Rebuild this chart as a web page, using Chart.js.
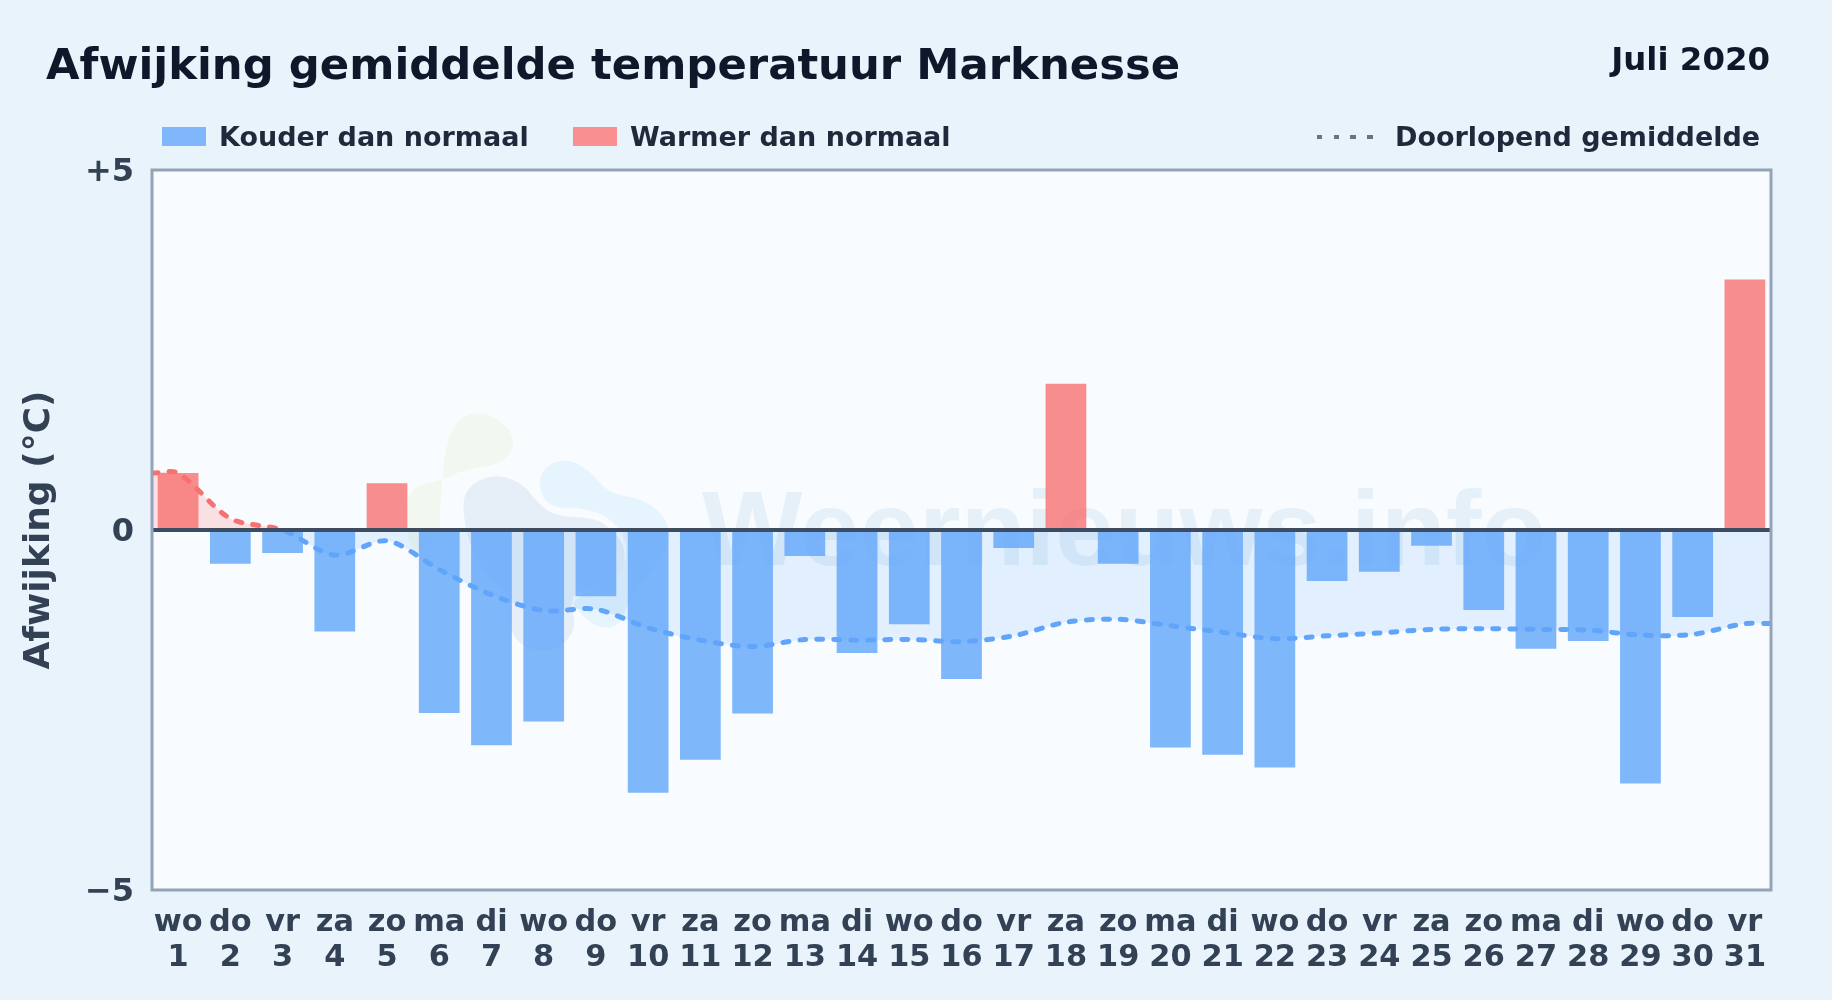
<!DOCTYPE html>
<html>
<head>
<meta charset="utf-8">
<title>Afwijking gemiddelde temperatuur Marknesse</title>
<script src="https://cdn.jsdelivr.net/npm/chart.js@4"></script>
<style>
  html, body { margin: 0; padding: 0; background: #e8f3fc; }
  body { width: 1832px; height: 1000px; position: relative; overflow: hidden; font-family: "DejaVu Sans", sans-serif; font-weight: bold; }
  canvas { position: absolute; left: 0; top: 0; }
  .txt { position: absolute; white-space: nowrap; line-height: 1; }
  #title { left: 46px; top: 43px; font-size: 43.35px; color: #0f172a; }
  #period { right: 62px; top: 43px; font-size: 32.4px; color: #0f172a; }
  .lg { font-size: 27px; color: #1e293b; top: 123px; }
  .swatch { position: absolute; top: 127px; width: 44px; height: 19px; }
  #dots { position: absolute; left: 1317px; top: 135px; width: 56px; height: 4px;
    background: repeating-linear-gradient(90deg, #64748b 0 5.5px, transparent 5.5px 16.7px); }
</style>
</head>
<body>
<canvas id="chart" width="1832" height="1000"></canvas>
<div class="txt" id="title">Afwijking gemiddelde temperatuur Marknesse</div>
<div class="txt" id="period">Juli 2020</div>
<div class="swatch" style="left:162px;background:#80b6fc"></div>
<div class="txt lg" style="left:219px">Kouder dan normaal</div>
<div class="swatch" style="left:573px;background:#f98f8f"></div>
<div class="txt lg" style="left:630px">Warmer dan normaal</div>
<div id="dots"></div>
<div class="txt lg" style="left:1395px">Doorlopend gemiddelde</div>
<script>
const weekdays = ['wo','do','vr','za','zo','ma','di','wo','do','vr','za','zo','ma','di','wo','do','vr','za','zo','ma','di','wo','do','vr','za','zo','ma','di','wo','do','vr']
const days = [1,2,3,4,5,6,7,8,9,10,11,12,13,14,15,16,17,18,19,20,21,22,23,24,25,26,27,28,29,30,31]
const deviation = [0.79,-0.47,-0.32,-1.41,0.65,-2.54,-2.99,-2.66,-0.92,-3.65,-3.19,-2.55,-0.36,-1.71,-1.31,-2.07,-0.25,2.03,-0.47,-3.02,-3.12,-3.30,-0.71,-0.58,-0.22,-1.11,-1.65,-1.54,-3.52,-1.21,3.48]
// running mean, the first and last entry sit on the frame of the plot
const runningDays = [0.5,1,2,3,4,5,6,7,8,9,10,11,12,13,14,15,16,17,18,19,20,21,22,23,24,25,26,27,28,29,30,31,31.5]
const runningMean = [0.79,0.79,0.16,0.0,-0.35,-0.15,-0.55,-0.90,-1.12,-1.10,-1.36,-1.53,-1.62,-1.52,-1.53,-1.52,-1.55,-1.47,-1.28,-1.24,-1.33,-1.42,-1.51,-1.47,-1.43,-1.38,-1.37,-1.38,-1.39,-1.46,-1.45,-1.30,-1.30]
const yTicks = { '5': '+5', '0': '0', '-5': '\u22125' }

const blue = 'rgba(96,165,250,0.8)'
const red = 'rgba(248,113,113,0.8)'

// stroke switches colour exactly where the line crosses zero
function lineColor(ctx) {
  const { chart } = ctx
  if (!chart.chartArea) return '#60a5fa'
  const { top, bottom } = chart.chartArea
  const stop = (chart.scales.y.getPixelForValue(0) - top) / (bottom - top)
  const g = chart.ctx.createLinearGradient(0, top, 0, bottom)
  g.addColorStop(0, '#f87171')
  g.addColorStop(stop, '#f87171')
  g.addColorStop(stop, '#60a5fa')
  g.addColorStop(1, '#60a5fa')
  return g
}

// plot background, watermark and frame
const plotFrame = {
  id: 'plotFrame',
  beforeDraw(chart) {
    const { ctx, chartArea: a } = chart
    ctx.save()
    ctx.fillStyle = '#f8fcff'
    ctx.fillRect(a.left, a.top, a.width, a.height)
    ctx.beginPath()
    ctx.rect(a.left, a.top, a.width, a.height)
    ctx.clip()
    blob(ctx, '#f2f8ef', [[448,425],[483,408],[517,435],[507,463],[463,470],[443,480],[408,487],[405,530],[415,555],[440,540],[440,500]])
    blob(ctx, '#e6f4fd', [[537,473],[563,457],[590,470],[607,493],[647,500],[670,523],[667,550],[647,577],[627,603],[620,627],[597,628],[580,613],[570,600],[600,590],[630,560],[620,525],[590,508],[545,508]])
    blob(ctx, '#e6eff7', [[462,490],[493,473],[523,483],[537,503],[557,517],[593,517],[613,530],[627,550],[620,577],[597,590],[577,590],[570,603],[577,630],[553,653],[520,647],[507,623],[513,597],[480,570],[465,530]])
    ctx.fillStyle = 'rgba(100,160,200,0.12)'
    ctx.font = 'bold 106.5px "Liberation Sans", sans-serif'
    ctx.textBaseline = 'alphabetic'
    ctx.fillText('Weernieuws.info', 702, 565)
    ctx.restore()
  },
  afterDraw(chart) {
    const { ctx, chartArea: a } = chart
    ctx.save()
    ctx.strokeStyle = '#94a3b8'
    ctx.lineWidth = 3
    ctx.strokeRect(a.left, a.top, a.width, a.height)
    ctx.restore()
  }
}

function blob(ctx, color, pts) {
  ctx.fillStyle = color
  ctx.beginPath()
  ctx.moveTo((pts[0][0] + pts[pts.length - 1][0]) / 2, (pts[0][1] + pts[pts.length - 1][1]) / 2)
  pts.forEach((p, i) => {
    const n = pts[(i + 1) % pts.length]
    ctx.quadraticCurveTo(p[0], p[1], (p[0] + n[0]) / 2, (p[1] + n[1]) / 2)
  })
  ctx.fill()
}

const xTickFont = { family: '"DejaVu Sans"', weight: 'bold', size: 30.4, lineHeight: 1.14 }
const yTickFont = { family: '"DejaVu Sans"', weight: 'bold', size: 32 }

new Chart(document.getElementById('chart').getContext('2d'), {
  data: {
    labels: weekdays.map((d, i) => [d, String(days[i])]),
    datasets: [
      {
        type: 'line',
        label: 'Doorlopend gemiddelde',
        order: 0,
        xAxisID: 'x2',
        data: runningDays.map((d, i) => ({ x: d, y: runningMean[i] })),
        borderColor: lineColor,
        borderWidth: 5,
        borderDash: [6, 11],
        borderCapStyle: 'round',
        tension: 0.3,
        pointRadius: 0,
        fill: { target: { value: 0 }, above: 'rgba(248,113,113,0.2)', below: 'rgba(96,165,250,0.15)' }
      },
      {
        type: 'bar',
        label: 'Afwijking',
        order: 1,
        grouped: false,
        data: deviation,
        backgroundColor: deviation.map(v => v < 0 ? blue : red),
        barPercentage: 0.78,
        categoryPercentage: 1
      }
    ]
  },
  options: {
    responsive: false,
    animation: false,
    layout: { padding: { top: 170, right: 61, bottom: 0, left: 0 } },
    plugins: {
      legend: { display: false },
      tooltip: { enabled: false },
      filler: { drawTime: 'beforeDatasetsDraw' }
    },
    scales: {
      x: {
        grid: { display: false },
        border: { display: false },
        ticks: { color: '#334155', font: xTickFont, padding: 8, maxRotation: 0, autoSkip: false },
        afterFit(s) { s.height = 110 }
      },
      x2: { type: 'linear', display: false, min: 0.5, max: 31.5 },
      y: {
        min: -5,
        max: 5,
        afterBuildTicks(s) { s.ticks = Object.keys(yTicks).map(v => ({ value: +v })) },
        grid: {
          z: 1,
          drawTicks: false,
          lineWidth: 4,
          color: ctx => ctx.tick && ctx.tick.value === 0 ? '#3e4c61' : 'transparent'
        },
        border: { display: false },
        ticks: {
          color: '#334155',
          font: yTickFont,
          padding: 18,
          labelOffset: 3,
          callback: v => yTicks[v]
        },
        title: {
          display: true,
          text: 'Afwijking (\u00b0C)',
          color: '#334155',
          font: { family: '"DejaVu Sans"', weight: 'bold', size: 36 },
          padding: { top: 18, bottom: 0 }
        },
        afterFit(s) { s.width = 152 }
      }
    }
  },
  plugins: [plotFrame]
})
</script>
</body>
</html>
